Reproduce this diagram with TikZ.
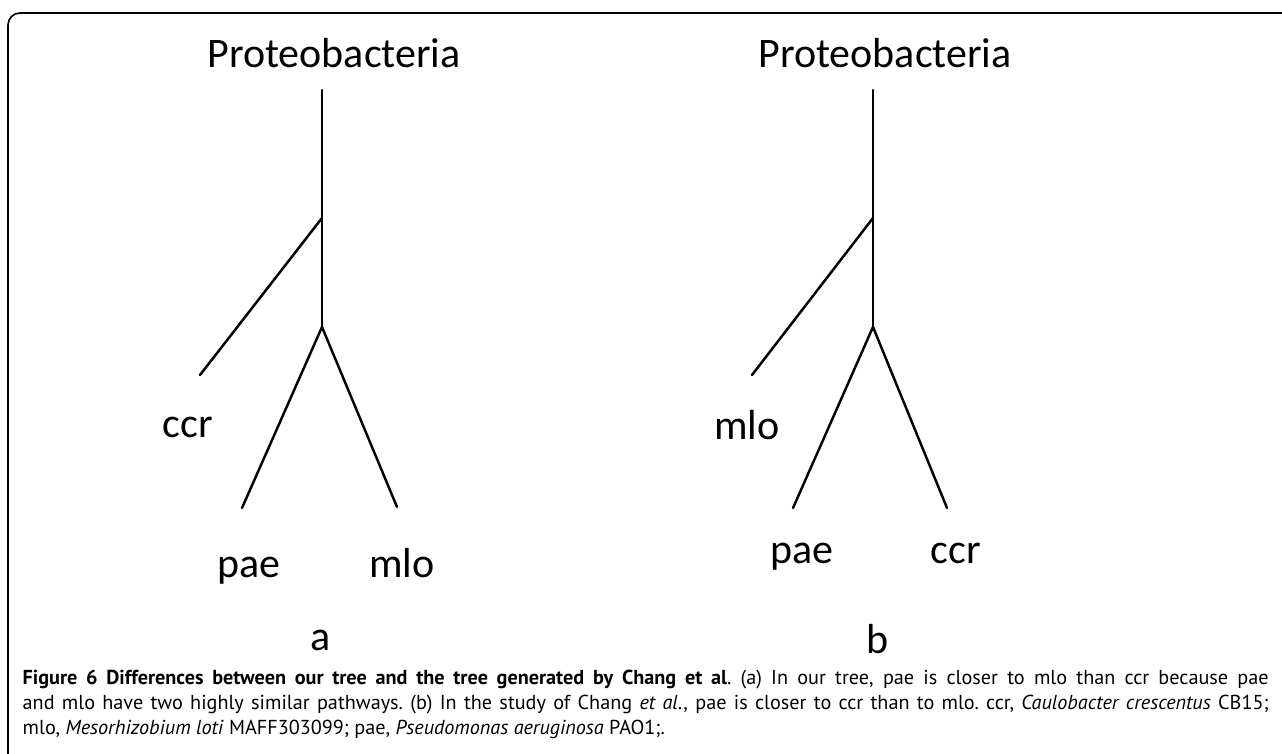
\documentclass[tikz,border=0pt]{standalone}
\usepackage{fontspec}
\usepackage{tikz}
\usepackage{tkz-euclide}
\newfontfamily\treefont{Carlito}
\newfontfamily\capfont{PT Sans}
\frenchspacing

\begin{document}
\begin{tikzpicture}[lbl/.style={font=\treefont\fontsize{11.95}{14}\selectfont, anchor=base, inner sep=0pt},
                    branch/.style={black, line width=0.7pt}]
                \useasboundingbox (0,0) rectangle (12.82,7.53);
                % frame
                \tkzDefPoints{0.08/-0.3/F1, 0.08/7.40/F2, 13.2/7.40/F3}
                \draw[line width=0.45pt, rounded corners=0.12cm] (F1) -- (F2) -- (F3);
                % tree a
                \tkzDefPoints{3.22/6.63/Ra, 3.22/5.35/Ua, 3.22/4.26/Va}
                \tkzDefPoints{2.00/3.78/Ca, 2.42/2.45/Pa, 3.97/2.46/Ma}
                \tkzDrawSegments[branch](Ra,Va Ua,Ca Va,Pa Va,Ma)
                \node[lbl] (proA) at (3.34,6.85) {Proteobacteria};
                \node[lbl] (ccrA) at (1.88,3.16) {ccr};
                \node[lbl] (paeA) at (2.49,1.76) {pae};
                \node[lbl] (mloA) at (4.02,1.76) {mlo};
                \node[lbl] (tagA) at (3.21,1.03) {a};
                % tree b
                \tkzDefPoints{8.73/6.63/Rb, 8.73/5.35/Ub, 8.73/4.26/Vb}
                \tkzDefPoints{7.52/3.78/Mb, 7.93/2.45/Pb, 9.47/2.45/Cb}
                \tkzDrawSegments[branch](Rb,Vb Ub,Mb Vb,Pb Vb,Cb)
                \node[lbl] (proB) at (8.85,6.85) {Proteobacteria};
                \node[lbl] (mloB) at (7.47,3.14) {mlo};
                \node[lbl] (paeB) at (8.02,1.90) {pae};
                \node[lbl] (ccrB) at (9.56,1.90) {ccr};
                \node[lbl] (tagB) at (8.78,1.00) {b};
                % caption
                \node[anchor=north west, inner sep=0pt, text width=12.46cm, align=justify,
                      font=\capfont\fontsize{5.75}{7.1}\selectfont] (cap) at (0.22,0.84)
                    {\textbf{Figure 6 Differences between our tree and the tree generated by Chang et al}. (a) In our tree, pae is closer to mlo than ccr because pae\linebreak
                     and mlo have two highly similar pathways. (b) In the study of Chang \textit{et al}., pae is closer to ccr than to mlo. ccr, \textit{Caulobacter crescentus} CB15;\linebreak
                     mlo, \textit{Mesorhizobium loti} MAFF303099; pae, \textit{Pseudomonas aeruginosa} PAO1;.};
            \end{tikzpicture}
\end{document}
